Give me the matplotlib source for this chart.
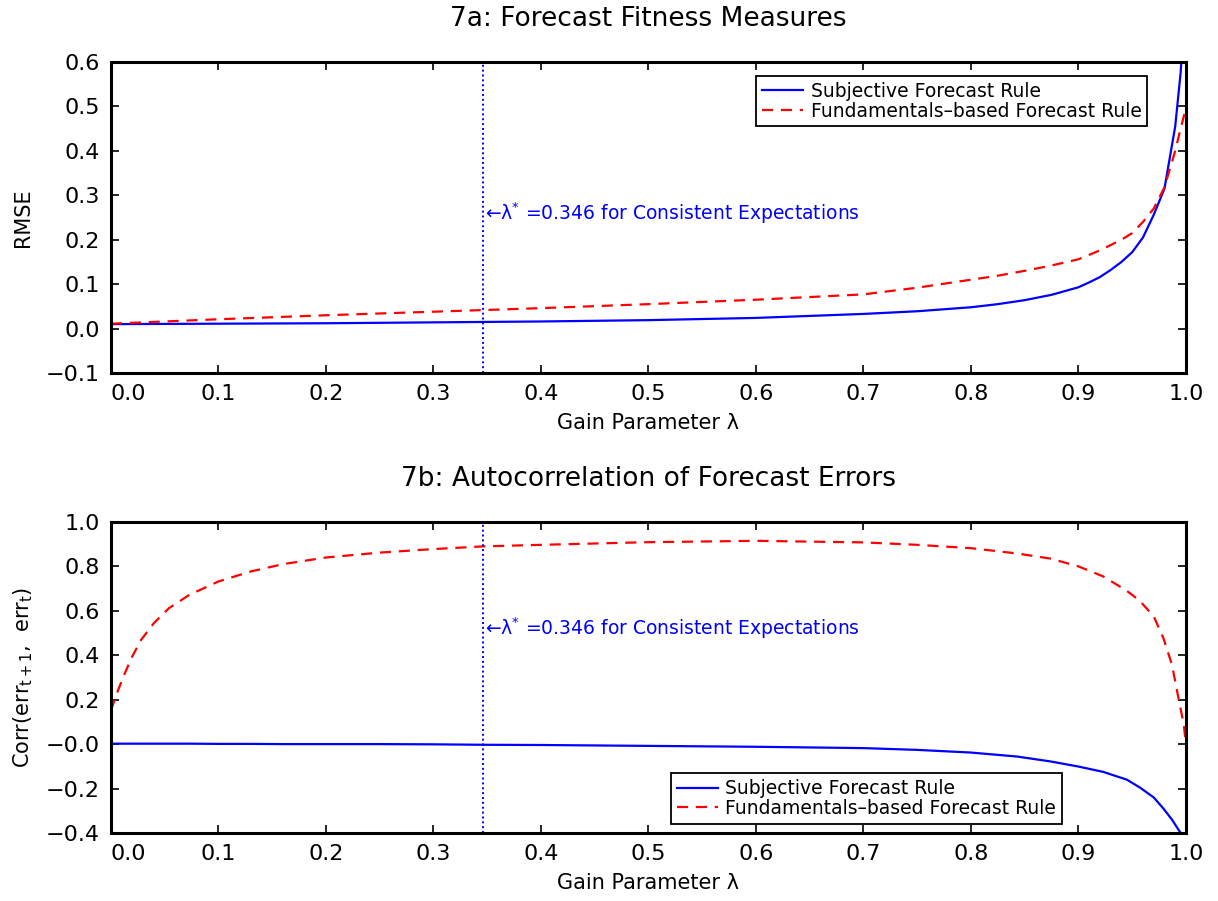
import numpy as np
import matplotlib
matplotlib.use("Agg")
import matplotlib.pyplot as plt

# Panel 7a: RMSE against gain parameter
lam_a = [0.0, 0.1, 0.2, 0.3, 0.4, 0.5, 0.6, 0.7, 0.75, 0.8, 0.825, 0.85, 0.875,
         0.9, 0.91, 0.92, 0.93, 0.94, 0.95, 0.96, 0.97, 0.98, 0.99, 0.995, 1.0]
rmse_subj = [0.010, 0.011, 0.012, 0.014, 0.016, 0.019, 0.024, 0.033, 0.039,
             0.048, 0.055, 0.064, 0.076, 0.093, 0.104, 0.116, 0.132, 0.150,
             0.172, 0.205, 0.256, 0.315, 0.455, 0.575, 0.75]
rmse_fund = [0.011, 0.021, 0.030, 0.038, 0.046, 0.055, 0.065, 0.077, 0.092,
             0.110, 0.119, 0.130, 0.142, 0.156, 0.166, 0.176, 0.188, 0.200,
             0.215, 0.240, 0.270, 0.318, 0.400, 0.450, 0.496]

# Panel 7b: autocorrelation of forecast errors
lam_b = [0.0, 0.005, 0.011, 0.019, 0.028, 0.04, 0.054, 0.073, 0.1, 0.13, 0.16,
         0.2, 0.25, 0.3, 0.346, 0.4, 0.5, 0.6, 0.7, 0.75, 0.8, 0.843, 0.874,
         0.9, 0.923, 0.945, 0.957, 0.97, 0.979, 0.987, 0.993, 0.998, 1.0]
corr_fund = [0.152, 0.222, 0.297, 0.387, 0.469, 0.545, 0.612, 0.672, 0.732,
             0.777, 0.81, 0.84, 0.862, 0.878, 0.89, 0.897, 0.909, 0.915, 0.908,
             0.897, 0.882, 0.858, 0.835, 0.80, 0.755, 0.69, 0.645, 0.575, 0.477,
             0.357, 0.207, 0.087, -0.003]
corr_subj = [0.002, 0.002, 0.002, 0.002, 0.002, 0.002, 0.002, 0.002, 0.001,
             0.001, 0.0, 0.0, 0.0, -0.001, -0.003, -0.004, -0.008, -0.012,
             -0.018, -0.026, -0.038, -0.056, -0.078, -0.101, -0.125, -0.16,
             -0.195, -0.24, -0.29, -0.34, -0.385, -0.42, -0.43]

lam_star = 0.346

x_ticks = [0.0, 0.1, 0.2, 0.3, 0.4, 0.5, 0.6, 0.7, 0.8, 0.9, 1.0]
x_labels = ["0.0", "0.1", "0.2", "0.3", "0.4", "0.5", "0.6", "0.7", "0.8", "0.9", "1.0"]
ya_ticks = [-0.1, 0.0, 0.1, 0.2, 0.3, 0.4, 0.5, 0.6]
ya_labels = ["\u22120.1", "0.0", "0.1", "0.2", "0.3", "0.4", "0.5", "0.6"]
yb_ticks = [-0.4, -0.2, 0.0, 0.2, 0.4, 0.6, 0.8, 1.0]
yb_labels = ["\u22120.4", "\u22120.2", "\u22120.0", "0.2", "0.4", "0.6", "0.8", "1.0"]

plt.rcParams['font.family'] = ['DejaVu Sans']

fig = plt.figure(figsize=(12.18, 9.01), dpi=100)
ax1 = fig.add_axes([0.0911, 0.586, 0.8826, 0.3452])
ax2 = fig.add_axes([0.0911, 0.0755, 0.8826, 0.3452])

def style(ax, yt, yl, title, ylab, ylim):
    ax.set_xlim(0, 1)
    ax.set_ylim(*ylim)
    ax.set_xticks(x_ticks)
    ax.set_xticklabels(x_labels)
    ax.set_yticks(yt)
    ax.set_yticklabels(yl)
    ax.get_xticklabels()[0].set_ha('left')
    ax.tick_params(direction='in', length=6, width=1.2, top=True, right=True,
                   labelsize=16, pad=8)
    for s in ax.spines.values():
        s.set_linewidth(2.2)
    ax.set_xlabel("Gain Parameter \u03bb", fontsize=15)
    ax.xaxis.set_label_coords(0.5, -0.128)
    ax.set_ylabel(ylab, fontsize=15, va='center')
    ax.yaxis.set_label_coords(-0.082, 0.5)
    ax.text(0.5, 1.137, title, transform=ax.transAxes, ha='center',
            va='center', fontsize=19)

# top panel
ax1.plot(lam_a, rmse_subj, color='blue', lw=1.6, label='Subjective Forecast Rule')
ax1.plot(lam_a, rmse_fund, color='red', lw=1.6, dashes=(5, 3.5),
         label='Fundamentals\u2013based Forecast Rule')
ax1.axvline(lam_star, color='blue', ls=(0, (1, 1.5)), lw=1.4)
ax1.text(lam_star + 0.002, 0.26,
         "\u2190\u03bb$^{*}$ =0.346 for Consistent Expectations",
         color='blue', fontsize=13.5, ha='left', va='center')
style(ax1, ya_ticks, ya_labels, "7a: Forecast Fitness Measures", "RMSE", (-0.1, 0.6))
ax1.legend(loc='upper right', bbox_to_anchor=(0.964, 0.955), fontsize=13.5,
           frameon=True, fancybox=False, edgecolor='black', framealpha=1,
           borderpad=0.3, labelspacing=0.05, handlelength=2.2,
           handletextpad=0.4, borderaxespad=0).get_frame().set_linewidth(1.3)

# bottom panel
ax2.plot(lam_b, corr_subj, color='blue', lw=1.6, label='Subjective Forecast Rule')
ax2.plot(lam_b, corr_fund, color='red', lw=1.6, dashes=(5, 3.5),
         label='Fundamentals\u2013based Forecast Rule')
ax2.axvline(lam_star, color='blue', ls=(0, (1, 1.5)), lw=1.4)
ax2.text(lam_star + 0.002, 0.522,
         "\u2190\u03bb$^{*}$ =0.346 for Consistent Expectations",
         color='blue', fontsize=13.5, ha='left', va='center')
style(ax2, yb_ticks, yb_labels, "7b: Autocorrelation of Forecast Errors",
      "Corr(err$_{\\mathrm{t+1}}$,  err$_{\\mathrm{t}}$)", (-0.4, 1.0))
ax2.legend(loc='lower left', bbox_to_anchor=(0.521, 0.03), fontsize=13.5,
           frameon=True, fancybox=False, edgecolor='black', framealpha=1,
           borderpad=0.3, labelspacing=0.05, handlelength=2.2,
           handletextpad=0.4, borderaxespad=0).get_frame().set_linewidth(1.3)

fig.savefig("out.png", dpi=100, facecolor='white')
